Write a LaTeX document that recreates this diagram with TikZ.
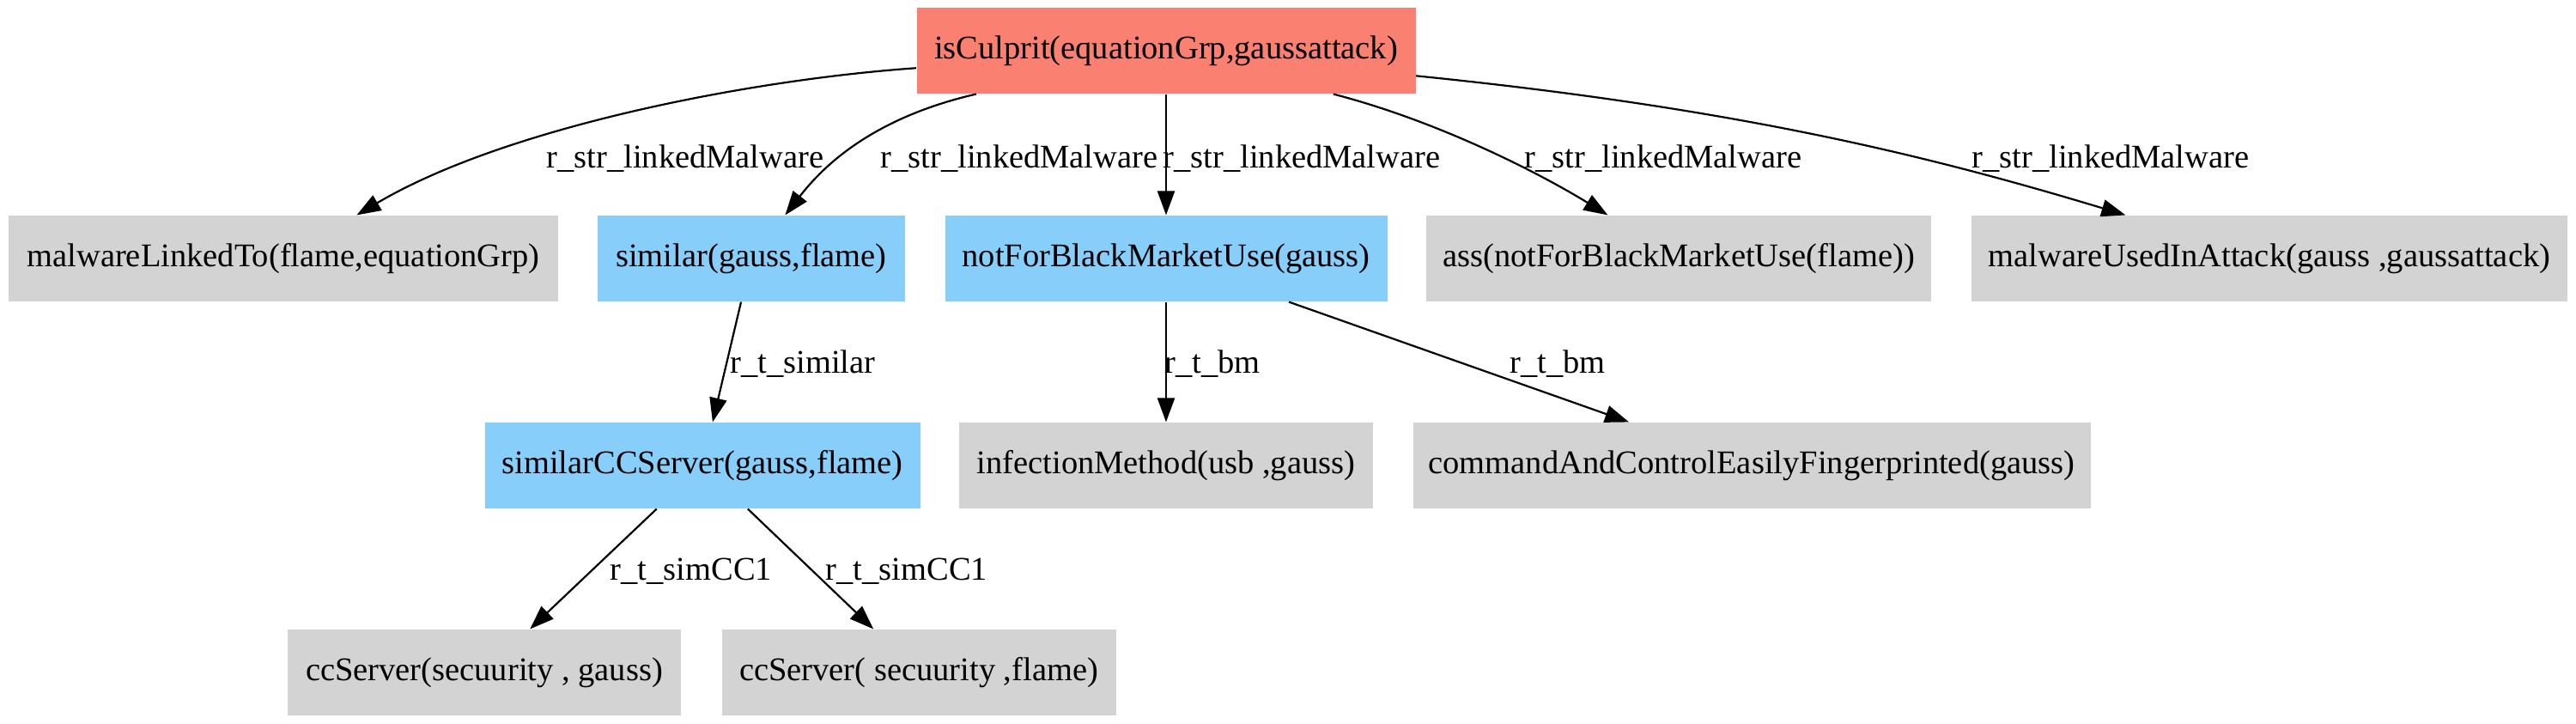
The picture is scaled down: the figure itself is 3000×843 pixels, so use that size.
\documentclass[tikz,border=0pt]{standalone}
\usepackage{fontspec}
\setmainfont{Liberation Serif}
\usetikzlibrary{arrows.meta}
\newcommand\gpx{0.3636pt}
\definecolor{salmonc}{HTML}{FA8072}
\definecolor{skyc}{HTML}{87CEFA}
\definecolor{greyc}{HTML}{D3D3D3}
\tikzset{
  every node/.style={font=\fontsize{14}{16}\selectfont},
  box/.style={rectangle, inner sep=0pt, minimum height=100*\gpx, minimum width=#1*\gpx},
  redbox/.style={box=#1, fill=salmonc},
  bluebox/.style={box=#1, fill=skyc},
  greybox/.style={box=#1, fill=greyc},
  lbl/.style={inner sep=0pt},
  edge/.style={draw=black, line width=0.8pt, -{Triangle[length=10.2pt,width=7.3pt]}}
}
\begin{document}
\begin{tikzpicture}[x=\gpx, y=-\gpx]
\useasboundingbox (0,0) rectangle (3000,843);
% nodes
\node[redbox=581] (culprit) at (1358,59) {isCulprit(equationGrp,gaussattack)};
\node[greybox=640] (mlt) at (330,301) {malwareLinkedTo(flame,equationGrp)};
\node[bluebox=358] (sim) at (875,301) {similar(gauss,flame)};
\node[bluebox=515] (nfb) at (1358,301) {notForBlackMarketUse(gauss)};
\node[greybox=588] (ass) at (1955,301) {ass(notForBlackMarketUse(flame))};
\node[greybox=694] (mua) at (2643,301) {malwareUsedInAttack(gauss ,gaussattack)};
\node[bluebox=507] (simcc) at (818,542) {similarCCServer(gauss,flame)};
\node[greybox=482] (inf) at (1358,542) {infectionMethod(usb ,gauss)};
\node[greybox=789] (cac) at (2040,542) {commandAndControlEasilyFingerprinted(gauss)};
\node[greybox=458] (cc1) at (564,783) {ccServer(secuurity , gauss)};
\node[greybox=459] (cc2) at (1070,783) {ccServer( secuurity ,flame)};
% edges
\draw[edge] (culprit) .. controls (870,93) and (587,149) .. (mlt);
\draw[edge] (culprit) .. controls (1008,139) and (953,201) .. (sim);
\draw[edge] (culprit) -- (nfb);
\draw[edge] (culprit) .. controls (1678,142) and (1795,203) .. (ass);
\draw[edge] (culprit) .. controls (2023,126) and (2245,181) .. (mua);
\draw[edge] (sim) -- (simcc);
\draw[edge] (nfb) -- (inf);
\draw[edge] (nfb) -- (cac);
\draw[edge] (simcc) -- (cc1);
\draw[edge] (simcc) -- (cc2);
% labels
\node[lbl] (l1) at (798,185) {r\_str\_linkedMalware};
\node[lbl] (l2) at (1187,185) {r\_str\_linkedMalware};
\node[lbl] (l3) at (1516,185) {r\_str\_linkedMalware};
\node[lbl] (l4) at (1937,185) {r\_str\_linkedMalware};
\node[lbl] (l5) at (2458,185) {r\_str\_linkedMalware};
\node[lbl] (l6) at (935,424) {r\_t\_similar};
\node[lbl] (l7) at (1412,424) {r\_t\_bm};
\node[lbl] (l8) at (1814,424) {r\_t\_bm};
\node[lbl] (l9) at (805,665) {r\_t\_simCC1};
\node[lbl] (l10) at (1056,665) {r\_t\_simCC1};
\end{tikzpicture}
\end{document}
